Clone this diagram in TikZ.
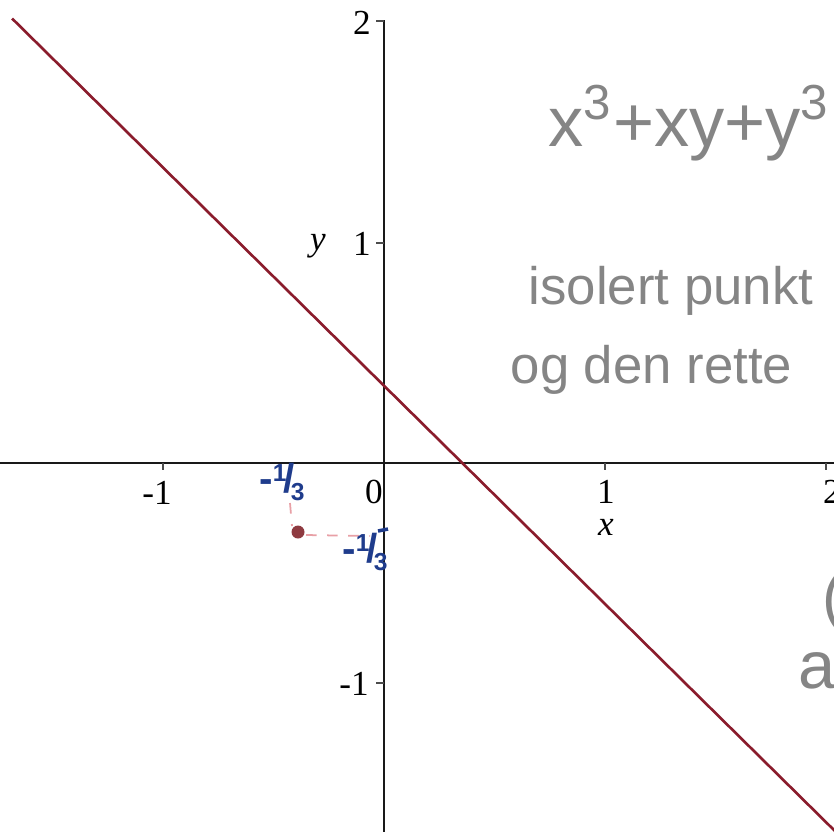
\documentclass[tikz,border=0pt]{standalone}
\usepackage{fontspec}
\setmainfont{Liberation Serif}
\newfontfamily\hand{Liberation Sans}
\definecolor{curvecol}{HTML}{8A1C2C}
\definecolor{pencol}{HTML}{858585}
\definecolor{inkcol}{HTML}{1F3C8C}
\definecolor{dashcol}{HTML}{E8A0A6}
\definecolor{dotcol}{HTML}{8E3A40}
\newcommand{\negthird}{-\raisebox{0.55ex}{\scriptsize 1}\kern-0.8pt/\kern-1.2pt\raisebox{-0.35ex}{\scriptsize 3}}
\begin{document}
\begin{tikzpicture}[x=0.01cm,y=-0.01cm,
  axisline/.style={line width=0.55pt,black!90},
  tickline/.style={line width=0.35pt,black!70},
  ticklab/.style={font=\fontsize{10}{12}\selectfont,inner sep=0pt},
  axlab/.style={font=\fontsize{10}{12}\selectfont\itshape,inner sep=0pt},
  handtext/.style={font=\hand\fontsize{15}{18}\selectfont,text=pencol,inner sep=0pt,anchor=base west},
  inklab/.style={font=\hand\bfseries\fontsize{11.5}{13}\selectfont,text=inkcol,inner sep=0pt},
  dashline/.style={dashcol,dashed,line width=0.5pt},
  curveline/.style={curvecol,line width=0.75pt}]
\useasboundingbox (0,0) rectangle (834,832);
\clip (0,0) rectangle (834,832);
% axes
\coordinate (xl) at (0,463);
\coordinate (xr) at (834,463);
\coordinate (yt) at (384,20);
\coordinate (yb) at (384,832);
\draw[axisline] (xl) -- (xr);
\draw[axisline] (yt) -- (yb);
% y ticks
\coordinate (ty2) at (384,21); \coordinate (ty2b) at (376,21);
\coordinate (ty1) at (384,243); \coordinate (ty1b) at (376,243);
\coordinate (tym1) at (384,683); \coordinate (tym1b) at (376,683);
\draw[tickline] (ty2) -- (ty2b);
\draw[tickline] (ty1) -- (ty1b);
\draw[tickline] (tym1) -- (tym1b);
% x ticks
\coordinate (txm1) at (163,463); \coordinate (txm1b) at (163,470);
\coordinate (tx1) at (605,463); \coordinate (tx1b) at (605,470);
\coordinate (tx2) at (826,463); \coordinate (tx2b) at (826,470);
\draw[tickline] (txm1) -- (txm1b);
\draw[tickline] (tx1) -- (tx1b);
\draw[tickline] (tx2) -- (tx2b);
% tick labels
\node[ticklab] (l2) at (362,23) {2};
\node[ticklab] (l1) at (362,244) {1};
\node[axlab] (ly) at (318,246) {y};
\node[ticklab] (lm1) at (354,684) {-1};
\node[ticklab] (lxm1) at (157,493) {-1};
\node[ticklab] (lx0) at (374,492) {0};
\node[ticklab] (lx1) at (606,492) {1};
\node[ticklab] (lx2) at (832,492) {2};
\node[axlab] (lx) at (606,527) {x};
% curve line x+y=1/3
\coordinate (c1) at (12.1,18.5);
\coordinate (c2) at (838,834);
\draw[curveline] (c1) -- (c2);
% isolated point
\coordinate (dv1) at (290,503);
\coordinate (dv2) at (292,526);
\coordinate (dh1) at (306,535);
\coordinate (dh2) at (370,536);
\draw[dashline] (dv1) -- (dv2);
\draw[dashline] (dh1) -- (dh2);
\fill[dotcol] (298,532) circle (6.5);
% blue labels
\node[inklab] (b1) at (282,482) {\negthird};
\node[inklab] (b2) at (365,552) {\negthird};
\coordinate (bt1) at (378,531); \coordinate (bt2) at (388,529);
\draw[inkcol,line width=1pt] (bt1) -- (bt2);
% handwritten notes
\node[handtext,font=\hand\fontsize{20}{24}\selectfont] (eq) at (548,146) {x\textsuperscript{3}+xy+y\textsuperscript{3}};
\node[handtext] (n1) at (528,304) {isolert punkt};
\node[handtext] (n2) at (510,383) {og den rette};
\node[handtext,font=\hand\fontsize{18}{20}\selectfont] (n3) at (822,618) {(};
\node[handtext,font=\hand\fontsize{19}{22}\selectfont] (n4) at (798,688) {a};
\end{tikzpicture}
\end{document}
